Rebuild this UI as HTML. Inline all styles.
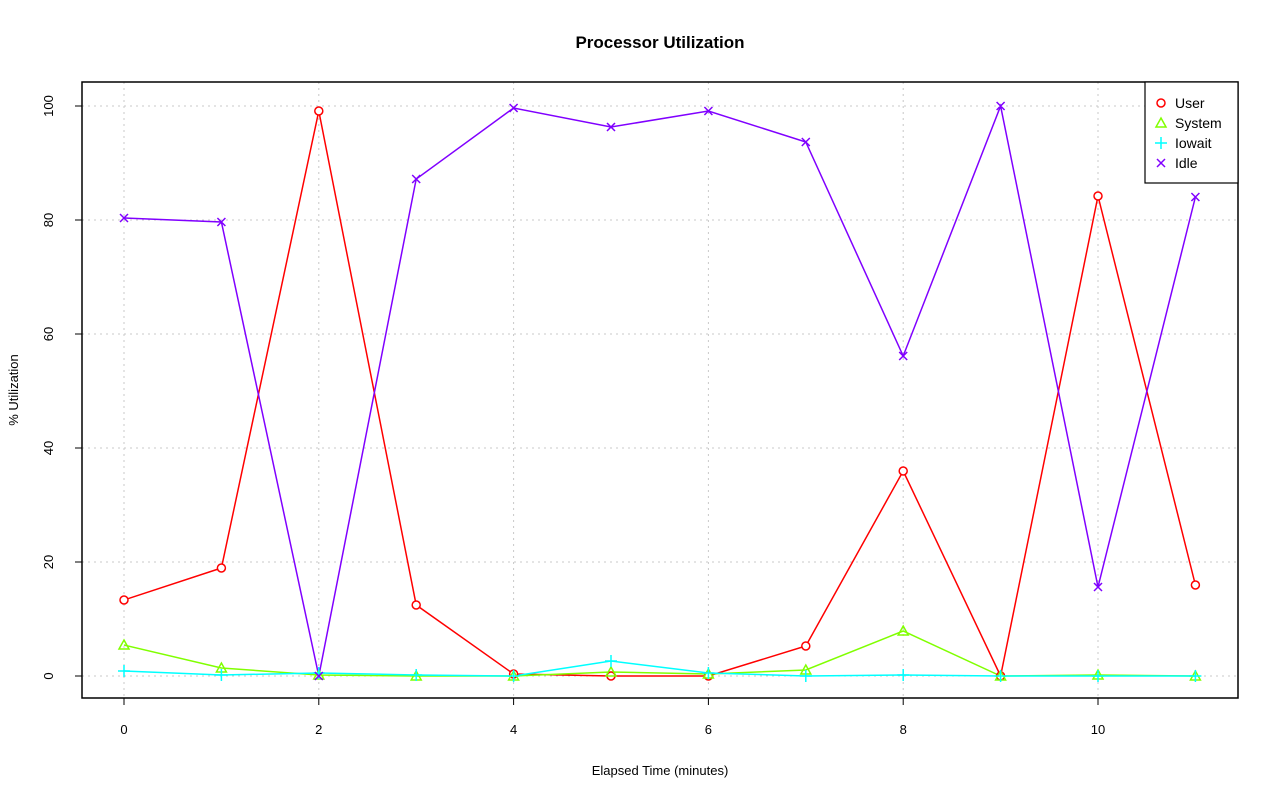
<!DOCTYPE html>
<html><head><style>body{margin:0;background:#fff}svg{display:block}text{font-family:"Liberation Sans",sans-serif}</style></head>
<body>
<svg width="1280" height="801" xmlns="http://www.w3.org/2000/svg">
<rect width="1280" height="801" fill="#fff"/>
<text x="660" y="48" text-anchor="middle" font-size="17" font-weight="bold">Processor Utilization</text>
<g stroke="#c8c8c8" stroke-dasharray="2,4" stroke-width="1">
<line x1="124" y1="82" x2="124" y2="698"/><line x1="318.8" y1="82" x2="318.8" y2="698"/><line x1="513.6" y1="82" x2="513.6" y2="698"/><line x1="708.4" y1="82" x2="708.4" y2="698"/><line x1="903.2" y1="82" x2="903.2" y2="698"/><line x1="1098" y1="82" x2="1098" y2="698"/>
<line x1="82" y1="676" x2="1238" y2="676"/><line x1="82" y1="562" x2="1238" y2="562"/><line x1="82" y1="448" x2="1238" y2="448"/><line x1="82" y1="334" x2="1238" y2="334"/><line x1="82" y1="220" x2="1238" y2="220"/><line x1="82" y1="106" x2="1238" y2="106"/>
</g>
<rect x="82" y="82" width="1156" height="616" fill="none" stroke="#000" stroke-width="1.5"/>
<g stroke="#000"><line x1="124" y1="698" x2="1098" y2="698"/>
<line x1="124" y1="698" x2="124" y2="705"/><line x1="318.8" y1="698" x2="318.8" y2="705"/><line x1="513.6" y1="698" x2="513.6" y2="705"/><line x1="708.4" y1="698" x2="708.4" y2="705"/><line x1="903.2" y1="698" x2="903.2" y2="705"/><line x1="1098" y1="698" x2="1098" y2="705"/>
<line x1="82" y1="106" x2="82" y2="676"/>
<line x1="75" y1="676" x2="82" y2="676"/><line x1="75" y1="562" x2="82" y2="562"/><line x1="75" y1="448" x2="82" y2="448"/><line x1="75" y1="334" x2="82" y2="334"/><line x1="75" y1="220" x2="82" y2="220"/><line x1="75" y1="106" x2="82" y2="106"/></g>
<g font-size="13" text-anchor="middle"><text x="124" y="734">0</text><text x="318.8" y="734">2</text><text x="513.6" y="734">4</text><text x="708.4" y="734">6</text><text x="903.2" y="734">8</text><text x="1098" y="734">10</text>
<text x="660" y="775">Elapsed Time (minutes)</text></g>
<g font-size="13" text-anchor="middle">
<text transform="translate(53,676) rotate(-90)">0</text><text transform="translate(53,562) rotate(-90)">20</text><text transform="translate(53,448) rotate(-90)">40</text><text transform="translate(53,334) rotate(-90)">60</text><text transform="translate(53,220) rotate(-90)">80</text><text transform="translate(53,106) rotate(-90)">100</text>
<text transform="translate(18,390) rotate(-90)">% Utilization</text></g>
<polyline fill="none" stroke="#ff0000" stroke-width="1.5" points="124,600 221.4,568 318.8,111 416.2,605 513.6,674 611,676 708.4,676 805.8,646 903.2,471 1000.6,676 1098,196 1195.4,585"/>
<polyline fill="none" stroke="#80ff00" stroke-width="1.5" points="124,645 221.4,668 318.8,675 416.2,676 513.6,676 611,672 708.4,674 805.8,670 903.2,631 1000.6,676 1098,675 1195.4,676"/>
<polyline fill="none" stroke="#00ffff" stroke-width="1.5" points="124,671 221.4,675 318.8,673 416.2,675 513.6,676 611,661 708.4,673 805.8,676 903.2,675 1000.6,676 1098,676 1195.4,676"/>
<polyline fill="none" stroke="#8000ff" stroke-width="1.5" points="124,218 221.4,222 318.8,676 416.2,179 513.6,108 611,127 708.4,111 805.8,142 903.2,356 1000.6,106 1098,587 1195.4,197"/>
<g fill="#fff" stroke="#ff0000" stroke-width="1.5">
<circle cx="124" cy="600" r="4"/><circle cx="221.4" cy="568" r="4"/><circle cx="318.8" cy="111" r="4"/><circle cx="416.2" cy="605" r="4"/><circle cx="513.6" cy="674" r="4"/><circle cx="611" cy="676" r="4"/><circle cx="708.4" cy="676" r="4"/><circle cx="805.8" cy="646" r="4"/><circle cx="903.2" cy="471" r="4"/><circle cx="1000.6" cy="676" r="4"/><circle cx="1098" cy="196" r="4"/><circle cx="1195.4" cy="585" r="4"/></g>
<g fill="none" stroke="#80ff00" stroke-width="1.5">
<path d="M124,640l5,9h-10z M221.4,663l5,9h-10z M318.8,670l5,9h-10z M416.2,671l5,9h-10z M513.6,671l5,9h-10z M611,667l5,9h-10z M708.4,669l5,9h-10z M805.8,665l5,9h-10z M903.2,626l5,9h-10z M1000.6,671l5,9h-10z M1098,670l5,9h-10z M1195.4,671l5,9h-10z"/></g>
<g stroke="#00ffff" stroke-width="1.5">
<path d="M118,671h12M124,665v12 M215.4,675h12M221.4,669v12 M312.8,673h12M318.8,667v12 M410.2,675h12M416.2,669v12 M507.6,676h12M513.6,670v12 M605,661h12M611,655v12 M702.4,673h12M708.4,667v12 M799.8,676h12M805.8,670v12 M897.2,675h12M903.2,669v12 M994.6,676h12M1000.6,670v12 M1092,676h12M1098,670v12 M1189.4,676h12M1195.4,670v12"/></g>
<g stroke="#8000ff" stroke-width="1.5">
<path d="M120,214l8,8m0,-8l-8,8 M217.4,218l8,8m0,-8l-8,8 M314.8,672l8,8m0,-8l-8,8 M412.2,175l8,8m0,-8l-8,8 M509.6,104l8,8m0,-8l-8,8 M607,123l8,8m0,-8l-8,8 M704.4,107l8,8m0,-8l-8,8 M801.8,138l8,8m0,-8l-8,8 M899.2,352l8,8m0,-8l-8,8 M996.6,102l8,8m0,-8l-8,8 M1094,583l8,8m0,-8l-8,8 M1191.4,193l8,8m0,-8l-8,8"/></g>
<rect x="1145" y="82" width="93" height="101" fill="#fff" stroke="#000" stroke-width="1.2"/>
<circle cx="1161" cy="103" r="4" fill="none" stroke="#ff0000" stroke-width="1.5"/>
<path d="M1161,118l5,9h-10z" fill="none" stroke="#80ff00" stroke-width="1.5"/>
<path d="M1155,143h12M1161,137v12" stroke="#00ffff" stroke-width="1.5"/>
<path d="M1157,159l8,8m0,-8l-8,8" stroke="#8000ff" stroke-width="1.5"/>
<g font-size="14"><text x="1175" y="108">User</text><text x="1175" y="128">System</text><text x="1175" y="148">Iowait</text><text x="1175" y="168">Idle</text></g>
</svg>
</body></html>
